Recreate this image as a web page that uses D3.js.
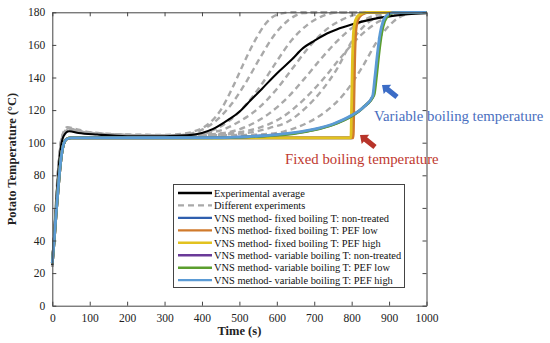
<!DOCTYPE html>
<html>
<head>
<meta charset="utf-8">
<script src="https://cdn.jsdelivr.net/npm/d3@7"></script>
<style>
  body { margin: 0; background: #fff; }
  svg { display: block; }
  svg text { font-family: "Liberation Serif", "Times New Roman", Times, "DejaVu Serif", serif !important; }
</style>
</head>
<body>
<svg id="chart" width="550" height="343"></svg>
<script>
// ---- data (time in s, temperature in °C) ----
const xTicks = [0, 100, 200, 300, 400, 500, 600, 700, 800, 900, 1000];
const yTicks = [0, 20, 40, 60, 80, 100, 120, 140, 160, 180];

// different experiments (gray dashed)
const exp1 = [[0,24],[8,56],[16,86],[25,103],[40,109.5],[60,108.5],[100,106.5],[200,105],[300,104.8],[350,105.5],[380,107],[420,112],[450,120],[480,133],[510,148],[540,162],[570,173],[600,178.5],[640,180],[1000,180]];
const exp2 = [[0,25],[9,58],[18,90],[28,105],[45,108.5],[70,107],[120,105.5],[200,104.2],[300,104],[360,105],[400,108],[440,114],[480,124],[520,138],[555,152],[590,165],[630,175],[670,179.5],[710,180],[1000,180]];
const exp3 = [[0,26],[10,60],[20,92],[30,106],[50,108],[80,106.5],[150,105],[250,104.3],[350,104.5],[420,107],[470,113],[520,124],[560,136],[600,150],[640,163],[680,172],[720,177.5],[770,180],[1000,180]];
const exp4 = [[0,24],[8,54],[17,87],[27,104],[42,109],[65,107.5],[110,106],[220,104.8],[330,104.6],[440,107],[500,113],[550,121],[600,133],[640,145],[680,157],[720,167],[770,175],[820,179],[870,180],[1000,180]];
const exp5 = [[0,25],[10,59],[19,90],[29,105],[48,108],[75,106.5],[140,105.2],[260,104.5],[380,104.8],[460,106],[520,110],[580,118],[630,128],[680,141],[720,152],[760,162],[810,172],[860,178],[910,180],[1000,180]];
const exp6 = [[0,25],[9,57],[18,88],[28,104.5],[44,108.8],[68,107.2],[130,105.5],[240,104.6],[360,104.7],[480,106],[550,109],[610,115],[670,126],[720,138],[770,152],[820,165],[870,174],[920,179],[960,180],[1000,180]];
const exp7 = [[0,24],[10,58],[20,91],[30,105.5],[46,108.2],[72,106.8],[135,105.3],[250,104.4],[400,104.6],[520,106],[580,109],[630,113],[680,122],[720,132],[760,145],[800,162],[840,173],[880,178],[930,180],[1000,180]];
const exp8 = [[0,26],[9,59],[19,91],[29,105],[47,108.3],[74,106.6],[145,105.1],[270,104.3],[420,104.5],[550,105],[620,107],[680,112],[730,119],[780,130],[830,147],[870,163],[910,174],[950,179],[990,180],[1000,180]];
const experiments = [exp1, exp2, exp3, exp4, exp5, exp6, exp7, exp8];

// experimental average (black)
const expAverage = [[0,25],[10,62],[20,92],[30,104],[45,107],[70,106],[120,105],[200,104],[300,104],[360,104.5],[400,106],[430,108.5],[470,114],[500,119],[530,126],[560,133],[600,142.5],[640,151],[670,158],[700,162.5],[734,167],[760,169.5],[800,172.5],[850,175.5],[900,177.5],[950,178.8],[1000,179.5]];

// VNS model, fixed boiling T
const fixedNonTreated = [[0,26],[5,40],[10,56],[15,70],[20,83],[25,93],[30,99],[38,102.2],[50,103],[801,103],[803,125],[805,150],[808,168],[813,175],[823,178.5],[843,180],[1000,180]];
const fixedPefLow = [[0,26],[5,40],[10,56],[15,70],[20,83],[25,93],[30,99],[38,102.2],[50,103],[804,103],[806,125],[808,150],[811,168],[816,175],[826,178.5],[846,180],[1000,180]];
const fixedPefHigh = [[0,26],[5,40],[10,56],[15,70],[20,83],[25,93],[30,99],[38,102.2],[50,103],[798,103],[800,125],[802,150],[805,168],[810,175],[820,178.5],[840,180],[1000,180]];

// VNS model, variable boiling T
const varNonTreated = [[0,26],[5,40],[10,56],[15,70],[20,83],[25,93],[30,99],[38,102.2],[50,103],[450,103.1],[500,103.4],[550,104],[600,104.8],[650,106],[700,108],[750,111.2],[800,116.5],[830,121.5],[858,129],[864,140],[871,155],[878,167],[886,174.5],[897,178.5],[912,179.8],[942,180],[1000,180]];
const varPefLow = [[0,26],[5,40],[10,56],[15,70],[20,83],[25,93],[30,99],[38,102.2],[50,103],[450,103],[500,103.3],[550,103.8],[600,104.6],[650,105.8],[700,107.8],[750,111],[800,116.3],[830,121.5],[860,129.5],[866,140],[873,155],[880,167],[888,174.5],[900,178.5],[915,179.8],[945,180],[1000,180]];
const varPefHigh = [[0,26],[5,40],[10,56],[15,70],[20,83],[25,93],[30,99],[38,102.2],[50,103],[450,103.1],[500,103.5],[550,104.1],[600,105],[650,106.3],[700,108.3],[750,111.5],[800,116.8],[830,121.5],[856,128.5],[862,140],[869,155],[876,167],[884,174.5],[895,178.5],[910,179.8],[940,180],[1000,180]];

const legendLabels = [
  "Experimental average",
  "Different experiments",
  "VNS method- fixed boiling T: non-treated",
  "VNS method- fixed boiling T: PEF low",
  "VNS method- fixed boiling T: PEF high",
  "VNS method- variable boiling T: non-treated",
  "VNS method- variable boiling T: PEF low",
  "VNS method- variable boiling T: PEF high"
];
const modelColors = ["#2f5fae", "#d07a2c", "#e2c21f", "#6a3a98", "#5b9e2e", "#5b9bd5"];
const modelSeries = [fixedNonTreated, fixedPefLow, fixedPefHigh, varNonTreated, varPefLow, varPefHigh];

// ---- layout ----
const svg = d3.select("#chart");
const x = d3.scaleLinear().domain([0, 1000]).range([52.3, 426.5]);
const y = d3.scaleLinear().domain([0, 180]).range([305.7, 12.3]);

const line = d3.line()
  .x((d) => x(d[0]))
  .y((d) => y(d[1]))
  .curve(d3.curveMonotoneX);

// gray experiments
svg.append("g")
  .selectAll("path")
  .data(experiments)
  .enter()
  .append("path")
  .attr("d", line)
  .attr("fill", "none")
  .attr("stroke", "#a9a9a9")
  .attr("stroke-width", 2.4)
  .attr("stroke-dasharray", "6,4");

// black average
svg.append("path")
  .attr("d", line(expAverage))
  .attr("fill", "none")
  .attr("stroke", "#000")
  .attr("stroke-width", 2.1);

// model curves
svg.append("g")
  .selectAll("path")
  .data(modelSeries)
  .enter()
  .append("path")
  .attr("d", line)
  .attr("fill", "none")
  .attr("stroke", (d, i) => modelColors[i])
  .attr("stroke-width", 2.8);

// ---- axes (ticks inward on all four sides) ----
const axisColor = "#444";
function styleAxis(g) {
  g.selectAll(".domain").attr("stroke", axisColor);
  g.selectAll(".tick line").attr("stroke", axisColor);
  g.selectAll(".tick text")
    .attr("fill", "#222")
    .style("font-size", "11.5px");
}

svg.append("g")
  .attr("transform", `translate(0,${y(0)})`)
  .call(d3.axisBottom(x).tickValues(xTicks).tickFormat(d3.format("d")).tickSizeInner(-4).tickSizeOuter(0).tickPadding(8))
  .call(styleAxis);

svg.append("g")
  .attr("transform", `translate(${x(0)},0)`)
  .call(d3.axisLeft(y).tickValues(yTicks).tickFormat(d3.format("d")).tickSizeInner(-4).tickSizeOuter(0).tickPadding(7))
  .call(styleAxis);

svg.append("g")
  .attr("transform", `translate(0,${y(180)})`)
  .call(d3.axisTop(x).tickValues(xTicks).tickSizeInner(-4).tickSizeOuter(0).tickFormat(""))
  .call(styleAxis);

svg.append("g")
  .attr("transform", `translate(${x(1000)},0)`)
  .call(d3.axisRight(y).tickValues(yTicks).tickSizeInner(-4).tickSizeOuter(0).tickFormat(""))
  .call(styleAxis);

// axis titles
svg.append("text")
  .attr("x", (x(0) + x(1000)) / 2)
  .attr("y", 335)
  .attr("text-anchor", "middle")
  .attr("font-weight", "bold")
  .attr("font-size", 12.5)
  .attr("fill", "#222")
  .text("Time (s)");

svg.append("text")
  .attr("transform", `translate(16,${(y(0) + y(180)) / 2}) rotate(-90)`)
  .attr("text-anchor", "middle")
  .attr("font-weight", "bold")
  .attr("font-size", 12.5)
  .attr("fill", "#222")
  .text("Potato Temperature (°C)");

// ---- annotations ----
svg.append("text")
  .attr("x", 374)
  .attr("y", 121)
  .attr("font-size", 14.8)
  .attr("fill", "#4a6fc0")
  .text("Variable boiling temperature");

svg.append("text")
  .attr("x", 285)
  .attr("y", 164)
  .attr("font-size", 14.8)
  .attr("fill", "#c0392f")
  .text("Fixed boiling temperature");

// block arrow pointing up-left
function drawArrow(x1, y1, x2, y2, color) {
  const ang = Math.atan2(y2 - y1, x2 - x1);
  const len = Math.hypot(x2 - x1, y2 - y1);
  const g = svg.append("g").attr("transform", `translate(${x1},${y1}) rotate(${ang * 180 / Math.PI})`);
  const head = 7;
  g.append("path")
    .attr("d", `M0,-2.6 L${len - head},-2.6 L${len - head},-6 L${len},0 L${len - head},6 L${len - head},2.6 L0,2.6 Z`)
    .attr("fill", color);
}
drawArrow(397, 97, 382, 85, "#3b6cc6");
drawArrow(375, 147, 360, 135, "#b8342a");

// ---- legend ----
const legend = svg.append("g");
legend.append("rect")
  .attr("x", 173.5)
  .attr("y", 184.5)
  .attr("width", 231)
  .attr("height", 103)
  .attr("fill", "#fff")
  .attr("stroke", "#444")
  .attr("stroke-width", 1);

const legendStroke = ["#000", "#a9a9a9"].concat(modelColors);
legendLabels.forEach((label, i) => {
  const ly = 193 + i * 12.45;
  legend.append("line")
    .attr("x1", 178)
    .attr("x2", 212)
    .attr("y1", ly)
    .attr("y2", ly)
    .attr("stroke", legendStroke[i])
    .attr("stroke-width", i === 1 ? 2.2 : 2.4)
    .attr("stroke-dasharray", i === 1 ? "6,4" : null);
  legend.append("text")
    .attr("x", 214)
    .attr("y", ly + 3.7)
    .attr("font-size", 10.4)
    .attr("fill", "#111")
    .text(label);
});
</script>
</body>
</html>
